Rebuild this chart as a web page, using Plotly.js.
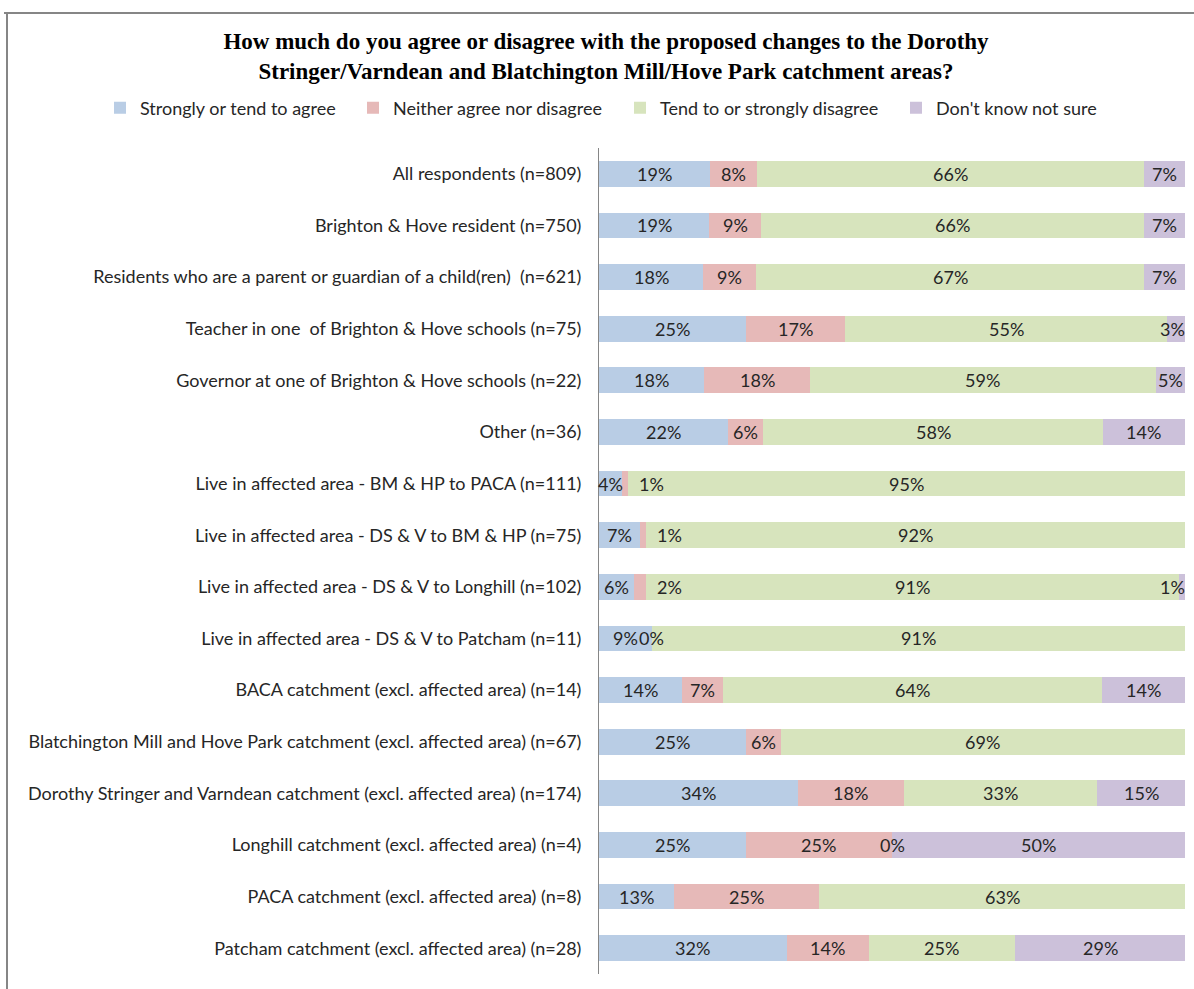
<!DOCTYPE html>
<html><head><meta charset="utf-8">
<script src="https://cdn.plot.ly/plotly-3.0.1.min.js"></script>
<style>html,body{margin:0;padding:0;background:#fff}</style>
</head><body><div id="chart" style="width:1194px;height:989px"></div>
<script>
const categories = [
  "All respondents (n=809)",
  "Brighton & Hove resident (n=750)",
  "Residents who are a parent or guardian of a child(ren)  (n=621)",
  "Teacher in one  of Brighton & Hove schools (n=75)",
  "Governor at one of Brighton & Hove schools (n=22)",
  "Other (n=36)",
  "Live in affected area - BM & HP to PACA (n=111)",
  "Live in affected area - DS & V to BM & HP (n=75)",
  "Live in affected area - DS & V to Longhill (n=102)",
  "Live in affected area - DS & V to Patcham (n=11)",
  "BACA catchment (excl. affected area) (n=14)",
  "Blatchington Mill and Hove Park catchment (excl. affected area) (n=67)",
  "Dorothy Stringer and Varndean catchment (excl. affected area) (n=174)",
  "Longhill catchment (excl. affected area) (n=4)",
  "PACA catchment (excl. affected area) (n=8)",
  "Patcham catchment (excl. affected area) (n=28)"
];
const seriesNames = ["Strongly or tend to agree", "Neither agree nor disagree", "Tend to or strongly disagree", "Don't know not sure"];
const agree    = [19, 19, 18, 25, 18, 22, 4, 7, 6, 9, 14, 25, 34, 25, 13, 32];
const neither  = [8, 9, 9, 17, 18, 6, 1, 1, 2, 0, 7, 6, 18, 25, 25, 14];
const disagree = [66, 66, 67, 55, 59, 58, 95, 92, 91, 91, 64, 69, 33, 0, 63, 25];
const dontKnow = [7, 7, 7, 3, 5, 14, null, null, 1, null, 14, null, 15, 50, null, 29];
const colors = ["#B9CDE5", "#E6B9B8", "#D7E4BD", "#CCC1DA"];

const series = [agree, neither, disagree, dontKnow];
const legendIds = ["legend", "legend2", "legend3", "legend4"];
const legendTextStartPx = [140, 393, 660, 936];

const L = 599, R = 9, T = 148, B = 15, W = 1194, H = 989;
const pw = W - L - R, ph = H - T - B;
const px2x = p => (p - L) / pw;
const py2y = p => (H - B - p) / ph;
const FONT = "Lato";
const FS = 18;

const traces = series.map((vals, s) => ({
  type: "bar", orientation: "h",
  name: seriesNames[s],
  y: categories, x: vals,
  marker: {color: colors[s], line: {width: 0}},
  legend: legendIds[s],
  hoverinfo: "skip"
}));

const annotations = [];
categories.forEach((cat, i) => {
  const total = series.reduce((a, arr) => a + (arr[i] == null ? 0 : arr[i]), 0);
  let cum = 0;
  series.forEach((arr, s) => {
    const v = arr[i];
    if (v == null) return;
    const start = cum / total * 100;
    const w = v / total * 100;
    let x = start + w / 2;
    let anchor = "center";
    let shift = 0;
    if (v > 0 && v < 3 && s < 3) x = start + w + 4;
    if (s === 3 && w < 4) { x = 100; anchor = "right"; shift = 2; }
    annotations.push({
      x: x, y: cat, xref: "x", yref: "y", text: v + "%", showarrow: false,
      xanchor: anchor, yanchor: "middle", xshift: shift,
      font: {family: FONT, size: FS, color: "#262626"}
    });
    cum += v;
  });
});

const layout = {
  width: W, height: H,
  margin: {l: L, r: R, t: T, b: B, pad: 0},
  paper_bgcolor: "#fff", plot_bgcolor: "#fff",
  barmode: "stack", barnorm: "percent", bargap: 0.5,
  title: {
    text: "<b>How much do you agree or disagree with the proposed changes to the Dorothy<br>Stringer/Varndean and Blatchington Mill/Hove Park catchment areas?</b>",
    font: {family: "Liberation Serif", size: 23, color: "#000"},
    x: 606 / W, xref: "container", xanchor: "center",
    y: 1 - 49 / H, yref: "container", yanchor: "top"
  },
  xaxis: {range: [0, 100], showgrid: false, zeroline: false, showticklabels: false, showline: false, fixedrange: true},
  yaxis: {
    type: "category", range: [15.5, -0.5], showgrid: false, zeroline: false,
    showline: true, linecolor: "#868686", linewidth: 1, ticks: "",
    ticklabelstandoff: 13, automargin: false,
    tickfont: {family: FONT, size: FS, color: "#262626"}
  },
  annotations: annotations,
  shapes: [
    {type: "line", xref: "paper", yref: "paper", x0: px2x(4), x1: px2x(1194), y0: py2y(13), y1: py2y(13), line: {color: "#868686", width: 2}},
    {type: "line", xref: "paper", yref: "paper", x0: px2x(7), x1: px2x(7), y0: py2y(13), y1: py2y(989), line: {color: "#868686", width: 2}}
  ],
  showlegend: true
};
legendIds.forEach((id, s) => {
  layout[id] = {
    orientation: "h", x: px2x(legendTextStartPx[s] - 40), xanchor: "left",
    y: py2y(108), yanchor: "middle", bgcolor: "rgba(0,0,0,0)", borderwidth: 0,
    font: {family: FONT, size: FS, color: "#262626"}
  };
});

Plotly.newPlot("chart", traces, layout, {displayModeBar: false, staticPlot: true});
</script>
</body></html>
